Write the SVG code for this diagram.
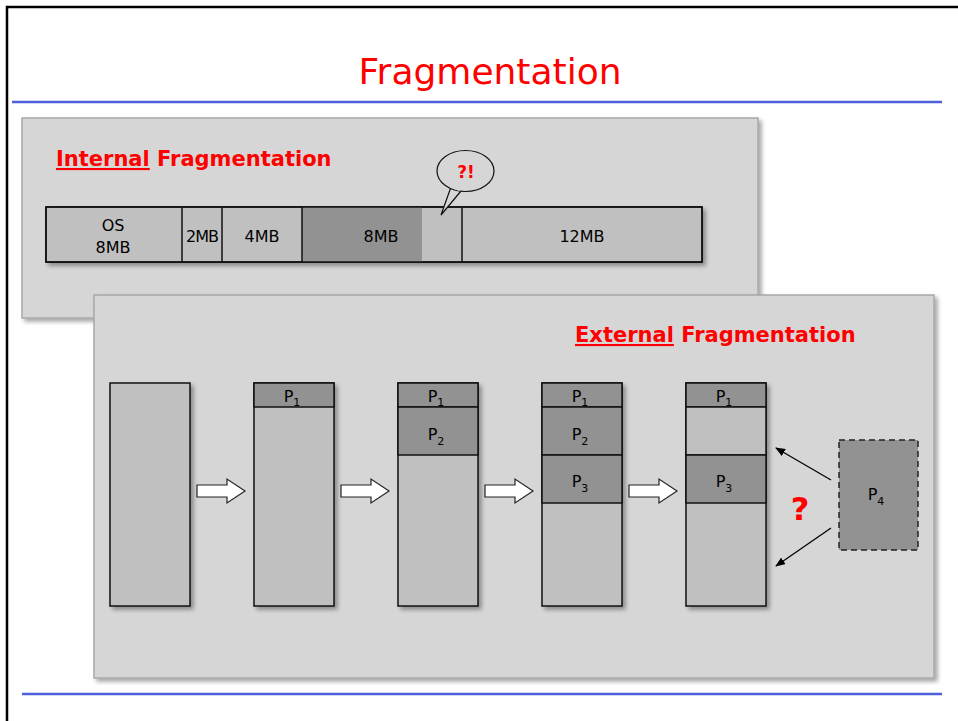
<svg xmlns="http://www.w3.org/2000/svg" width="958" height="721" viewBox="0 0 958 721">
<defs>
<filter id="sh" x="-10%" y="-10%" width="130%" height="130%">
<feGaussianBlur in="SourceAlpha" stdDeviation="2"/>
<feOffset dx="3" dy="3" result="b"/>
<feComponentTransfer><feFuncA type="linear" slope="0.35"/></feComponentTransfer>
<feMerge><feMergeNode/><feMergeNode in="SourceGraphic"/></feMerge>
</filter>
<marker id="ah" markerWidth="10" markerHeight="8" refX="9" refY="4" orient="auto" markerUnits="userSpaceOnUse">
<path d="M0,0 L10,4 L0,8 Z" fill="#000"/>
</marker>
</defs>
<style>
text{font-family:"DejaVu Sans","Noto Sans",sans-serif;fill:#000}
.red{fill:#ff0000;font-weight:bold}
.panel{fill:#d6d6d6;stroke:#a8a8a8;stroke-width:1.5}
.light{fill:#c0c0c0;stroke:#111;stroke-width:1.5}
.dark{fill:#929292;stroke:#111;stroke-width:1.5}
.lbl{font-size:16px;text-anchor:middle}
.p{font-size:16px;text-anchor:middle}
.blk{fill:#fff;stroke:#222;stroke-width:1.2}
.con{stroke:#000;stroke-width:1.3;fill:none}
</style>
<rect x="0" y="0" width="958" height="721" fill="#fff"/>
<path d="M7,721 V7 H958" fill="none" stroke="#000" stroke-width="2.5"/>
<text x="490" y="84" text-anchor="middle" style="font-size:36px;fill:#ff0000">Fragmentation</text>
<line x1="12" y1="102" x2="942" y2="102" stroke="#5060dd" stroke-width="2.5"/>
<line x1="22" y1="694" x2="942" y2="694" stroke="#5060dd" stroke-width="2.5"/>

<g id="internal-panel">
<rect class="panel" x="22" y="118" width="736" height="200" filter="url(#sh)"/>
<text x="56" y="166" class="red" style="font-size:21px"><tspan text-decoration="underline">Internal</tspan> Fragmentation</text>
</g>
<g id="memory-bar" filter="url(#sh)">
<rect class="light" x="46" y="207" width="656" height="55"/>
<rect x="302" y="207" width="120" height="55" fill="#929292"/>
<rect x="46" y="207" width="656" height="55" fill="none" stroke="#111" stroke-width="1.5"/>
<line x1="182" y1="207" x2="182" y2="262" stroke="#111" stroke-width="1.5"/>
<line x1="222" y1="207" x2="222" y2="262" stroke="#111" stroke-width="1.5"/>
<line x1="302" y1="207" x2="302" y2="262" stroke="#111" stroke-width="1.5"/>
<line x1="462" y1="207" x2="462" y2="262" stroke="#111" stroke-width="1.5"/>
</g>
<g id="bar-labels">
<text class="lbl" x="113" y="231">OS</text>
<text class="lbl" x="113" y="253">8MB</text>
<text class="lbl" x="202" y="242" style="letter-spacing:-1px">2MB</text>
<text class="lbl" x="262" y="242">4MB</text>
<text class="lbl" x="381" y="242">8MB</text>
<text class="lbl" x="582" y="242">12MB</text>
</g>
<g id="bubble">
<path d="M451,187 L441,215 L461,191" fill="#d6d6d6" stroke="#111" stroke-width="1.2"/>
<ellipse cx="465.5" cy="171" rx="28.5" ry="20.5" fill="#d6d6d6" stroke="#111" stroke-width="1.2"/>
<path d="M450,186 L460,190" stroke="#d6d6d6" stroke-width="2.5"/>
<text x="466" y="178" text-anchor="middle" class="red" style="font-size:17px">?!</text>
</g>

<g id="external-panel">
<rect class="panel" x="94" y="295" width="840" height="383" filter="url(#sh)"/>
<text x="575" y="342" class="red" style="font-size:21px"><tspan text-decoration="underline">External</tspan> Fragmentation</text>
</g>

<g id="col1" filter="url(#sh)">
<rect class="light" x="110" y="383" width="80" height="223"/>
</g>
<g id="col2">
<rect class="light" x="254" y="383" width="80" height="223" filter="url(#sh)"/>
<rect class="dark" x="254" y="383" width="80" height="24"/>
<text class="p" x="292" y="402">P<tspan font-size="11" dy="4">1</tspan></text>
</g>
<g id="col3">
<rect class="light" x="398" y="383" width="80" height="223" filter="url(#sh)"/>
<rect class="dark" x="398" y="383" width="80" height="24"/>
<rect class="dark" x="398" y="407" width="80" height="48"/>
<text class="p" x="436" y="402">P<tspan font-size="11" dy="4">1</tspan></text>
<text class="p" x="436" y="440">P<tspan font-size="11" dy="5">2</tspan></text>
</g>
<g id="col4">
<rect class="light" x="542" y="383" width="80" height="223" filter="url(#sh)"/>
<rect class="dark" x="542" y="383" width="80" height="24"/>
<rect class="dark" x="542" y="407" width="80" height="48"/>
<rect class="dark" x="542" y="455" width="80" height="48"/>
<text class="p" x="580" y="402">P<tspan font-size="11" dy="4">1</tspan></text>
<text class="p" x="580" y="440">P<tspan font-size="11" dy="5">2</tspan></text>
<text class="p" x="580" y="487">P<tspan font-size="11" dy="5">3</tspan></text>
</g>
<g id="col5">
<rect class="light" x="686" y="383" width="80" height="223" filter="url(#sh)"/>
<rect class="dark" x="686" y="383" width="80" height="24"/>
<rect class="light" x="686" y="407" width="80" height="48"/>
<rect class="dark" x="686" y="455" width="80" height="48"/>
<text class="p" x="724" y="402">P<tspan font-size="11" dy="4">1</tspan></text>
<text class="p" x="724" y="487">P<tspan font-size="11" dy="5">3</tspan></text>
</g>
<g id="p4">
<rect x="839" y="440" width="79" height="110" fill="#929292" stroke="#222" stroke-width="1.5" stroke-dasharray="6,4"/>
<text class="p" x="876" y="500">P<tspan font-size="11" dy="5">4</tspan></text>
</g>
<text x="800" y="520" text-anchor="middle" class="red" style="font-size:32px">?</text>

<g id="connectors">
<path class="blk" d="M197,485 H227 V479 L245,491 L227,503 V497 H197 Z"/>
<path class="blk" d="M341,485 H371 V479 L389,491 L371,503 V497 H341 Z"/>
<path class="blk" d="M485,485 H515 V479 L533,491 L515,503 V497 H485 Z"/>
<path class="blk" d="M629,485 H659 V479 L677,491 L659,503 V497 H629 Z"/>
<line class="con" x1="831" y1="480" x2="776" y2="448" marker-end="url(#ah)"/>
<line class="con" x1="831" y1="528" x2="776" y2="566" marker-end="url(#ah)"/>
</g>
</svg>
